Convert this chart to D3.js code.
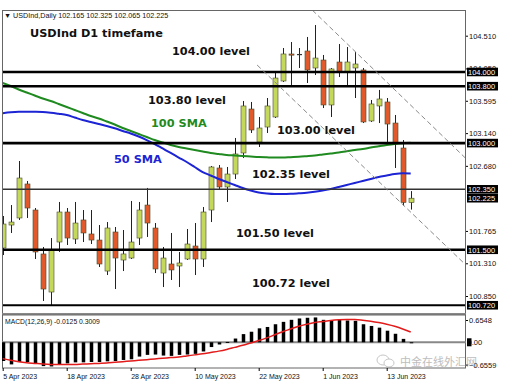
<!DOCTYPE html>
<html>
<head>
<meta charset="utf-8">
<script src="https://cdn.jsdelivr.net/npm/d3@7"></script>
<style>
  body { margin: 0; background: #fff; }
  svg { display: block; }
</style>
</head>
<body>
<div id="chart"></div>
<script>
// daily bars, 5 Apr 2023 .. 16 Jun 2023
var dates = ["5 Apr","6 Apr","10 Apr","11 Apr","12 Apr","13 Apr","14 Apr","17 Apr","18 Apr","19 Apr",
  "20 Apr","21 Apr","24 Apr","25 Apr","26 Apr","27 Apr","28 Apr","1 May","2 May","3 May",
  "4 May","5 May","8 May","9 May","10 May","11 May","12 May","15 May","16 May","17 May",
  "18 May","19 May","22 May","23 May","24 May","25 May","26 May","29 May","30 May","31 May",
  "1 Jun","2 Jun","5 Jun","6 Jun","7 Jun","8 Jun","9 Jun","12 Jun","13 Jun","14 Jun","15 Jun","16 Jun"];

var opens = [101.525, 101.848, 101.947, 102.425, 102.059, 101.441, 100.906, 101.609, 102.031, 101.651,
  101.919, 101.722, 101.637, 101.201, 101.750, 101.356, 101.384, 101.665, 102.129, 101.806,
  101.173, 101.300, 101.272, 101.370, 101.553, 101.370, 102.059, 102.650, 102.383, 102.565,
  102.861, 103.479, 103.015, 103.226, 103.367, 103.873, 104.253, 104.253, 104.295, 104.056,
  104.168, 103.536, 104.140, 104.000, 104.056, 104.028, 103.311, 103.522, 103.578, 103.282,
  102.931, 102.165];
var highs = [101.975, 102.129, 102.748, 102.467, 102.087, 101.539, 101.665, 102.172, 102.087, 102.172,
  102.059, 102.059, 101.848, 101.890, 101.820, 101.778, 102.186, 102.172, 102.369, 101.876,
  101.539, 101.736, 101.469, 101.792, 101.876, 102.101, 102.678, 102.692, 102.664, 103.072,
  103.592, 103.578, 103.367, 103.634, 103.986, 104.337, 104.421, 104.337, 104.492, 104.660,
  104.239, 104.056, 104.393, 104.351, 104.281, 104.056, 103.606, 103.747, 103.634, 103.395,
  103.043, 102.325];
var lows = [101.426, 101.736, 101.919, 101.947, 101.370, 100.780, 100.723, 101.469, 101.567, 101.581,
  101.609, 101.581, 101.258, 101.145, 100.948, 101.201, 101.370, 101.567, 101.680, 101.173,
  100.976, 101.075, 100.976, 101.356, 101.145, 101.258, 101.890, 102.340, 102.172, 102.495,
  102.790, 103.142, 102.945, 103.142, 103.353, 103.859, 103.817, 104.056, 103.845, 103.957,
  103.493, 103.367, 103.929, 103.789, 103.634, 103.282, 103.297, 103.282, 103.001, 102.650,
  102.120, 102.065];
var closes = [101.862, 101.890, 102.509, 102.087, 101.469, 100.948, 101.497, 102.031, 101.665, 101.876,
  101.736, 101.637, 101.300, 101.806, 101.384, 101.441, 101.609, 102.059, 101.876, 101.230,
  101.384, 101.216, 101.314, 101.581, 101.370, 102.031, 102.664, 102.383, 102.565, 102.847,
  103.522, 103.184, 103.212, 103.522, 103.915, 104.253, 104.239, 104.253, 104.028, 104.196,
  103.536, 104.042, 104.000, 104.140, 104.112, 103.297, 103.550, 103.620, 103.268, 103.001,
  102.165, 102.225];

var sma50 = [103.419, 103.433, 103.440, 103.441, 103.440, 103.437, 103.427, 103.412, 103.395, 103.360,
  103.325, 103.297, 103.268, 103.240, 103.208, 103.170, 103.135, 103.093, 103.043, 102.987,
  102.924, 102.861, 102.797, 102.734, 102.664, 102.593, 102.544, 102.495, 102.453, 102.411,
  102.369, 102.333, 102.305, 102.291, 102.284, 102.284, 102.287, 102.294, 102.302, 102.315,
  102.333, 102.354, 102.383, 102.411, 102.439, 102.467, 102.495, 102.523, 102.544, 102.565,
  102.575, 102.572];
var sma100 = [103.845, 103.803, 103.754, 103.711, 103.669, 103.627, 103.592, 103.550, 103.507, 103.465,
  103.423, 103.381, 103.346, 103.304, 103.261, 103.212, 103.170, 103.128, 103.086, 103.043,
  103.008, 102.973, 102.945, 102.924, 102.903, 102.882, 102.861, 102.847, 102.833, 102.826,
  102.818, 102.811, 102.804, 102.800, 102.797, 102.797, 102.802, 102.807, 102.816, 102.826,
  102.840, 102.854, 102.868, 102.885, 102.903, 102.917, 102.938, 102.956, 102.973, 102.987,
  102.997, 103.004];

var macdHist = [-0.55, -0.65, -0.58, -0.58, -0.62, -0.70, -0.71, -0.64, -0.62, -0.59,
  -0.59, -0.58, -0.58, -0.56, -0.55, -0.52, -0.50, -0.42, -0.37, -0.36,
  -0.39, -0.40, -0.37, -0.36, -0.34, -0.27, -0.14, -0.065, 0.01, 0.11,
  0.24, 0.31, 0.41, 0.45, 0.53, 0.60, 0.66, 0.70, 0.72, 0.73,
  0.66, 0.65, 0.66, 0.64, 0.63, 0.53, 0.48, 0.43, 0.34, 0.25,
  0.10, -0.0125];
var macdSignal = [-0.48, -0.53, -0.57, -0.60, -0.62, -0.64, -0.65, -0.65, -0.65, -0.65,
  -0.64, -0.63, -0.62, -0.61, -0.59, -0.57, -0.55, -0.53, -0.51, -0.49,
  -0.47, -0.45, -0.43, -0.40, -0.37, -0.34, -0.30, -0.26, -0.21, -0.15,
  -0.09, -0.02, 0.05, 0.13, 0.22, 0.31, 0.39, 0.47, 0.53, 0.58,
  0.61, 0.64, 0.66, 0.67, 0.67, 0.65, 0.62, 0.58, 0.53, 0.47,
  0.39, 0.30];

var priceTicks = [104.510, 104.050, 103.595, 103.140, 102.680, 101.765, 101.310, 100.850];
var levels = [104.000, 103.800, 103.000, 102.350, 101.500, 100.720];
var lastPrice = 102.225;
var macdTicks = [0.6548, -0.6559];
var dateTickIdx = [0, 8, 16, 24, 32, 40, 48];
var dateTickText = ["5 Apr 2023", "18 Apr 2023", "28 Apr 2023", "10 May 2023", "22 May 2023", "1 Jun 2023", "13 Jun 2023"];
// channel lines as [bar index, price] end points
var channelUpper = [[38.7, 104.87], [57.9, 102.783]];
var channelLower = [[31.8, 104.098], [57.9, 101.286]];

function init() {
    var w = 511, h = 391;
    var left = 2, right = 466, top = 10, mainBottom = 313;
    var macdTop = 315, macdBottom = 368;

    var svg = d3.select("#chart").append("svg")
        .attr("width", w).attr("height", h);

    svg.append("rect").attr("width", w).attr("height", h).attr("fill", "#fff");

    var x = d3.scaleLinear().domain([0, 51]).range([2.7, 410.7]);
    var y = d3.scaleLinear().domain([100.85, 104.51]).range([296, 35.7]);
    var ym = d3.scaleLinear().domain([-0.6559, 0.6548]).range([364.6, 320]);

    var defs = svg.append("defs");
    defs.append("clipPath").attr("id", "clipMain").append("rect")
        .attr("x", left).attr("y", top).attr("width", right - left).attr("height", mainBottom - top);
    defs.append("clipPath").attr("id", "clipMacd").append("rect")
        .attr("x", left).attr("y", macdTop).attr("width", right - left).attr("height", macdBottom - macdTop);

    var main = svg.append("g").attr("clip-path", "url(#clipMain)");
    var bars = d3.range(dates.length);

    // candles
    var bull = "#c4d85c", bear = "#e2592b";
    var bw = 5;
    main.selectAll(".wick").data(bars).enter().append("line")
        .attr("x1", function(i) { return Math.round(x(i)) + 0.5; })
        .attr("x2", function(i) { return Math.round(x(i)) + 0.5; })
        .attr("y1", function(i) { return y(highs[i]); })
        .attr("y2", function(i) { return y(lows[i]); })
        .attr("stroke", "#222").attr("stroke-width", 1);

    main.selectAll(".body").data(bars).enter().append("rect")
        .attr("x", function(i) { return Math.round(x(i)) + 0.5 - bw / 2; })
        .attr("y", function(i) { return y(Math.max(opens[i], closes[i])); })
        .attr("width", bw)
        .attr("height", function(i) { return Math.max(1.2, Math.abs(y(opens[i]) - y(closes[i]))); })
        .attr("fill", function(i) {
            if (Math.abs(opens[i] - closes[i]) < 0.005) return "#333";
            return closes[i] >= opens[i] ? bull : bear;
        })
        .attr("stroke", function(i) { return Math.abs(opens[i] - closes[i]) < 0.005 ? "none" : "#4a4a2a"; })
        .attr("stroke-width", 0.6);

    // moving averages
    var line = d3.line().x(function(d, i) { return x(i); }).y(function(d) { return y(d); }).curve(d3.curveMonotoneX);
    main.append("path").datum(sma100).attr("d", line)
        .attr("fill", "none").attr("stroke", "#1f8a1f").attr("stroke-width", 2);
    main.append("path").datum(sma50).attr("d", line)
        .attr("fill", "none").attr("stroke", "#1c24d4").attr("stroke-width", 2);

    // horizontal levels
    var lvlWidth = { "104": 2.6, "103.8": 2.6, "103": 2.6, "102.35": 1.4, "101.5": 2.6, "100.72": 2.2 };
    main.selectAll(".lvl").data(levels).enter().append("line")
        .attr("x1", left).attr("x2", right)
        .attr("y1", function(d) { return y(d); }).attr("y2", function(d) { return y(d); })
        .attr("stroke", function(d) { return d === 102.35 ? "#333" : "#000"; })
        .attr("stroke-width", function(d) { return lvlWidth[String(d)]; });

    // channel lines
    [channelUpper, channelLower].forEach(function(c) {
        main.append("line")
            .attr("x1", x(c[0][0])).attr("y1", y(c[0][1]))
            .attr("x2", x(c[1][0])).attr("y2", y(c[1][1]))
            .attr("stroke", "#8a8a8a").attr("stroke-width", 1)
            .attr("stroke-dasharray", "5,3");
    });

    // panel frames
    svg.append("rect").attr("x", left + 0.5).attr("y", top + 0.5)
        .attr("width", right - left - 1).attr("height", mainBottom - top)
        .attr("fill", "none").attr("stroke", "#666").attr("stroke-width", 1);
    svg.append("line").attr("x1", left).attr("x2", right).attr("y1", 314).attr("y2", 314)
        .attr("stroke", "#888").attr("stroke-width", 2);
    svg.append("rect").attr("x", left + 0.5).attr("y", macdTop)
        .attr("width", right - left - 1).attr("height", macdBottom - macdTop)
        .attr("fill", "none").attr("stroke", "#666").attr("stroke-width", 1);

    // price axis
    var yAxis = d3.axisRight(y).tickValues(priceTicks).tickFormat(d3.format(".3f"))
        .tickSize(2).tickPadding(1);
    var ya = svg.append("g").attr("transform", "translate(" + right + ",0)").call(yAxis);
    ya.select(".domain").remove();
    ya.selectAll("text").attr("font-family", "Liberation Sans, Arial, sans-serif")
        .attr("font-size", "7.5px").attr("fill", "#111");

    // level boxes
    var boxes = levels.concat([lastPrice]);
    var bx = svg.append("g");
    bx.selectAll("rect").data(boxes).enter().append("rect")
        .attr("x", right + 1).attr("y", function(d) { return y(d) - 4.3; })
        .attr("width", 31).attr("height", 8.6).attr("fill", "#000");
    bx.selectAll("text").data(boxes).enter().append("text")
        .attr("x", right + 2).attr("y", function(d) { return y(d) + 2.9; })
        .attr("font-family", "Liberation Sans, Arial, sans-serif").attr("font-size", "7.5px")
        .attr("fill", "#fff").text(function(d) { return d3.format(".3f")(d); });

    // MACD panel
    var mg = svg.append("g").attr("clip-path", "url(#clipMacd)");
    mg.append("line").attr("x1", left).attr("x2", right).attr("y1", ym(0)).attr("y2", ym(0))
        .attr("stroke", "#888").attr("stroke-width", 2);
    mg.selectAll(".hist").data(bars).enter().append("rect")
        .attr("x", function(i) { return Math.round(x(i)) + 0.5 - 1.75; })
        .attr("y", function(i) { return Math.min(ym(0), ym(macdHist[i])); })
        .attr("width", 3.5)
        .attr("height", function(i) { return Math.max(1, Math.abs(ym(macdHist[i]) - ym(0))); })
        .attr("fill", "#000");
    var sline = d3.line().x(function(d, i) { return x(i); }).y(function(d) { return ym(d); }).curve(d3.curveMonotoneX);
    mg.append("path").datum(macdSignal).attr("d", sline)
        .attr("fill", "none").attr("stroke", "#e21b1b").attr("stroke-width", 1.5);

    var mAxis = d3.axisRight(ym).tickValues(macdTicks).tickFormat(d3.format(".4f"))
        .tickSize(2).tickPadding(1);
    var ma = svg.append("g").attr("transform", "translate(" + right + ",0)").call(mAxis);
    ma.select(".domain").remove();
    ma.selectAll("text").attr("font-family", "Liberation Sans, Arial, sans-serif")
        .attr("font-size", "7.5px").attr("fill", "#111");
    svg.append("rect").attr("x", right + 1).attr("y", ym(0) - 4).attr("width", 4.5).attr("height", 8).attr("fill", "#000");
    svg.append("text").attr("x", right + 1.5).attr("y", ym(0) + 2.8)
        .attr("font-family", "Liberation Sans, Arial, sans-serif").attr("font-size", "7.5px")
        .attr("fill", "#111").text("0.00");

    svg.append("text").attr("x", 5).attr("y", 324)
        .attr("font-family", "Liberation Sans, Arial, sans-serif").attr("font-size", "6.8px")
        .attr("fill", "#111").text("MACD(12,26,9) -0.0125 0.3009");

    // date axis
    var xAxis = d3.axisBottom(x).tickValues(dateTickIdx)
        .tickFormat(function(d, k) { return dateTickText[k]; })
        .tickSize(3).tickPadding(3);
    var xa = svg.append("g").attr("transform", "translate(0," + macdBottom + ")").call(xAxis);
    xa.select(".domain").remove();
    xa.selectAll("text").attr("text-anchor", "start").attr("x", 0)
        .attr("font-family", "Liberation Sans, Arial, sans-serif")
        .attr("font-size", "7px").attr("fill", "#111");

    // header
    svg.append("text").attr("x", 4).attr("y", 17.5)
        .attr("font-family", "Liberation Sans, Arial, sans-serif").attr("font-size", "7.2px")
        .attr("fill", "#111").text("\u25BC USDInd,Daily  102.165 102.325 102.065 102.225");

    // annotations
    var bold = function(t, px, py, col) {
        svg.append("text").attr("x", px).attr("y", py)
            .attr("font-family", "DejaVu Sans, Verdana, sans-serif").attr("font-weight", "bold")
            .attr("font-size", "11.3px").attr("fill", col || "#111").text(t);
    };
    bold("USDInd D1 timefame", 30, 37);
    bold("104.00 level", 172, 55);
    bold("103.80 level", 148, 104);
    bold("100 SMA", 151, 127, "#1f8a1f");
    bold("50 SMA", 114, 163, "#1c24d4");
    bold("103.00 level", 277, 134);
    bold("102.35 level", 252, 178);
    bold("101.50 level", 236, 237);
    bold("100.72 level", 252, 287);

    // watermark
    var wm = svg.append("g").attr("opacity", 0.55);
    wm.append("ellipse").attr("cx", 383).attr("cy", 360).attr("rx", 6).attr("ry", 5)
        .attr("fill", "none").attr("stroke", "#999").attr("stroke-width", 1);
    wm.append("ellipse").attr("cx", 389).attr("cy", 363).attr("rx", 5).attr("ry", 4)
        .attr("fill", "#fff").attr("stroke", "#999").attr("stroke-width", 1);
    wm.append("text").attr("x", 400).attr("y", 366)
        .attr("font-family", "Noto Sans CJK SC, sans-serif").attr("font-size", "11px")
        .attr("fill", "#888").text("中金在线外汇网");
}

window.onload = init;
</script>
</body>
</html>
